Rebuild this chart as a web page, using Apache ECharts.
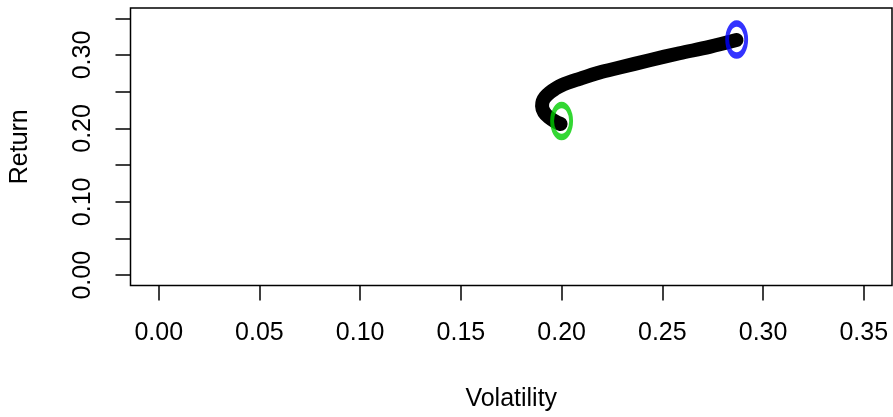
<!DOCTYPE html>
<html>
<head>
<meta charset="utf-8">
<script src="https://cdn.jsdelivr.net/npm/echarts@6/dist/echarts.min.js"></script>
<style>
html,body{margin:0;padding:0;background:#fff;}
#chart{width:893px;height:417px;}
</style>
</head>
<body>
<div id="chart"></div>
<script>
// Efficient frontier (volatility, return)
const volatility = [0.1995, 0.1965, 0.1936, 0.1913, 0.1903, 0.1906, 0.1918, 0.1941, 0.1965, 0.2000, 0.2089, 0.2188, 0.2288, 0.2436, 0.2585, 0.2734, 0.2868];
const returns    = [0.2060, 0.2100, 0.2153, 0.2220, 0.2300, 0.2367, 0.2427, 0.2488, 0.2534, 0.2588, 0.2675, 0.2762, 0.2829, 0.2929, 0.3023, 0.3110, 0.3203];
const minRiskPoint = [0.2000, 0.2100];   // green marker
const maxReturnPoint = [0.2869, 0.3210]; // blue marker
const xTicks = [0, 0.05, 0.10, 0.15, 0.20, 0.25, 0.30, 0.35];
const yTicks = [0, 0.05, 0.10, 0.15, 0.20, 0.25, 0.30, 0.35];
const yTickLabels = [0, 0.10, 0.20, 0.30];
const xTitle = 'Volatility';
const yTitle = 'Return';

const FONT = '"Liberation Sans", Arial, sans-serif';
const ellipse = 'path://M0,-16A10,16 0 1,1 0,16A10,16 0 1,1 0,-16Z';

const chart = echarts.init(document.getElementById('chart'), null, {renderer: 'canvas'});
chart.setOption({
  animation: false,
  backgroundColor: '#fff',
  grid: {left: 130, right: 1, top: 8, bottom: 126, show: true, borderColor: '#000', borderWidth: 1.5, backgroundColor: 'transparent'},
  xAxis: {
    type: 'value', min: -0.014, max: 0.364, position: 'bottom',
    axisLine: {show: false, onZero: false},
    splitLine: {show: false},
    axisTick: {show: true, inside: false, length: 15, customValues: xTicks, lineStyle: {color: '#000', width: 1.5}},
    axisLabel: {show: true, customValues: xTicks, margin: 48, align: 'center', verticalAlign: 'middle',
      fontSize: 25, color: '#000', fontFamily: FONT, formatter: v => v.toFixed(2)},
    name: xTitle, nameLocation: 'middle', nameGap: 114,
    nameTextStyle: {fontSize: 25, color: '#000', fontFamily: FONT, align: 'center', verticalAlign: 'middle'}
  },
  yAxis: {
    type: 'value', min: -0.014, max: 0.364, position: 'left',
    axisLine: {show: false, onZero: false},
    splitLine: {show: false},
    axisTick: {show: true, inside: false, length: 15, customValues: yTicks, lineStyle: {color: '#000', width: 1.5}},
    axisLabel: {show: true, customValues: yTickLabels, rotate: 90, margin: 47, align: 'center', verticalAlign: 'middle',
      fontSize: 25, color: '#000', fontFamily: FONT, formatter: v => v.toFixed(2)},
    name: yTitle, nameLocation: 'middle', nameGap: 110, nameRotate: 90,
    nameTextStyle: {fontSize: 25, color: '#000', fontFamily: FONT, align: 'center', verticalAlign: 'middle'}
  },
  series: [
    {
      type: 'line', data: volatility.map((v, i) => [v, returns[i]]),
      showSymbol: false, symbol: 'none', smooth: 0.35, z: 2,
      lineStyle: {color: '#000', width: 14, cap: 'round', join: 'round'}
    },
    {
      type: 'scatter', data: [minRiskPoint], symbol: ellipse, symbolSize: [19, 32], z: 3,
      itemStyle: {color: 'transparent', borderColor: '#00CD00', borderWidth: 5}
    },
    {
      type: 'scatter', data: [maxReturnPoint], symbol: ellipse, symbolSize: [19, 32], z: 3,
      itemStyle: {color: 'transparent', borderColor: '#0000FF', borderWidth: 5}
    }
  ]
});
</script>
</body>
</html>
